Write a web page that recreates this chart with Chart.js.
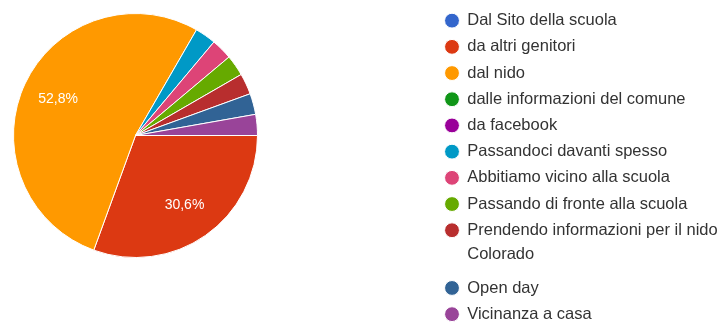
<!DOCTYPE html>
<html>
<head>
<meta charset="utf-8">
<script src="https://cdn.jsdelivr.net/npm/chart.js"></script>
<style>
	html, body { margin : 0; padding : 0; background : #fff; overflow : hidden; }
	#wrap { position : relative; width : 728px; height : 360px; }
</style>
</head>
<body>
<div id="wrap"><canvas id="pie-chartcanvas"></canvas></div>
<script>

var categories = [
	"Dal Sito della scuola",
	"da altri genitori",
	"dal nido",
	"dalle informazioni del comune",
	"da facebook",
	"Passandoci davanti spesso",
	"Abbitiamo vicino alla scuola",
	"Passando di fronte alla scuola",
	["Prendendo informazioni per il nido", "Colorado"],
	"Open day",
	"Vicinanza a casa"
];

// number of answers per option (36 in total)
var responses = [0, 11, 19, 0, 0, 1, 1, 1, 1, 1, 1];


// pie square and legend origin (Google Forms layout)
var placeBoxes = {
	id : "placeBoxes",
	afterLayout : function (chart) {
		var area = chart.chartArea;
		area.left = 13;
		area.top = 13;
		area.right = 258;
		area.bottom = 258;
		area.width = 245;
		area.height = 245;
		chart.legend.left = 435.3;
		chart.legend.top = 2.7;
	}
};

// percentage written inside the big slices
var sliceLabels = {
	id : "sliceLabels",
	afterDatasetsDraw : function (chart) {
		var ctx = chart.ctx;
		var meta = chart.getDatasetMeta(0);
		var total = responses.reduce(function (a, b) { return a + b; }, 0);
		ctx.save();
		ctx.font = "14px 'Liberation Sans', Arial, sans-serif";
		ctx.fillStyle = "#fff";
		ctx.textAlign = "center";
		ctx.textBaseline = "middle";
		meta.data.forEach(function (arc, i) {
			var share = responses[i] / total;
			if (share < 0.05) return;
			var p = arc.getProps(["x", "y", "startAngle", "endAngle", "outerRadius"], true);
			var mid = (p.startAngle + p.endAngle) / 2;
			var r = p.outerRadius * 0.7;
			var text = (share * 100).toFixed(1).replace(".", ",") + "%";
			ctx.fillText(text, p.x + Math.cos(mid) * r, p.y + Math.sin(mid) * r);
		});
		ctx.restore();
	}
};

var data = {
	labels : categories,
	datasets : [
		{
			label : "Risposte",
			data : responses,
			backgroundColor : [
				"#3366CC",
				"#DC3912",
				"#FF9900",
				"#109618",
				"#990099",
				"#0099C6",
				"#DD4477",
				"#66AA00",
				"#B82E2E",
				"#316395",
				"#994499"
			],
			borderColor : "#fff",
			borderWidth : 1
		}
	]
};

var options = {
	responsive : true,
	maintainAspectRatio : false,
	animation : false,
	rotation : 90,
	layout : {
		padding : 0
	},
	plugins : {
		legend : {
			display : true,
			position : "right",
			align : "start",
			labels : {
				usePointStyle : true,
				pointStyle : "circle",
				boxWidth : 14,
				boxHeight : 10.5,
				padding : 9.7,
				color : "#333",
				font : {
					family : "'Liberation Sans', Arial, sans-serif",
					size : 16.5,
					lineHeight : 1.455
				}
			}
		},
		tooltip : {
			enabled : false
		}
	}
};

var chart = new Chart(document.getElementById("pie-chartcanvas"), {
	type : "pie",
	data : data,
	options : options,
	plugins : [placeBoxes, sliceLabels]
});

</script>
</body>
</html>
